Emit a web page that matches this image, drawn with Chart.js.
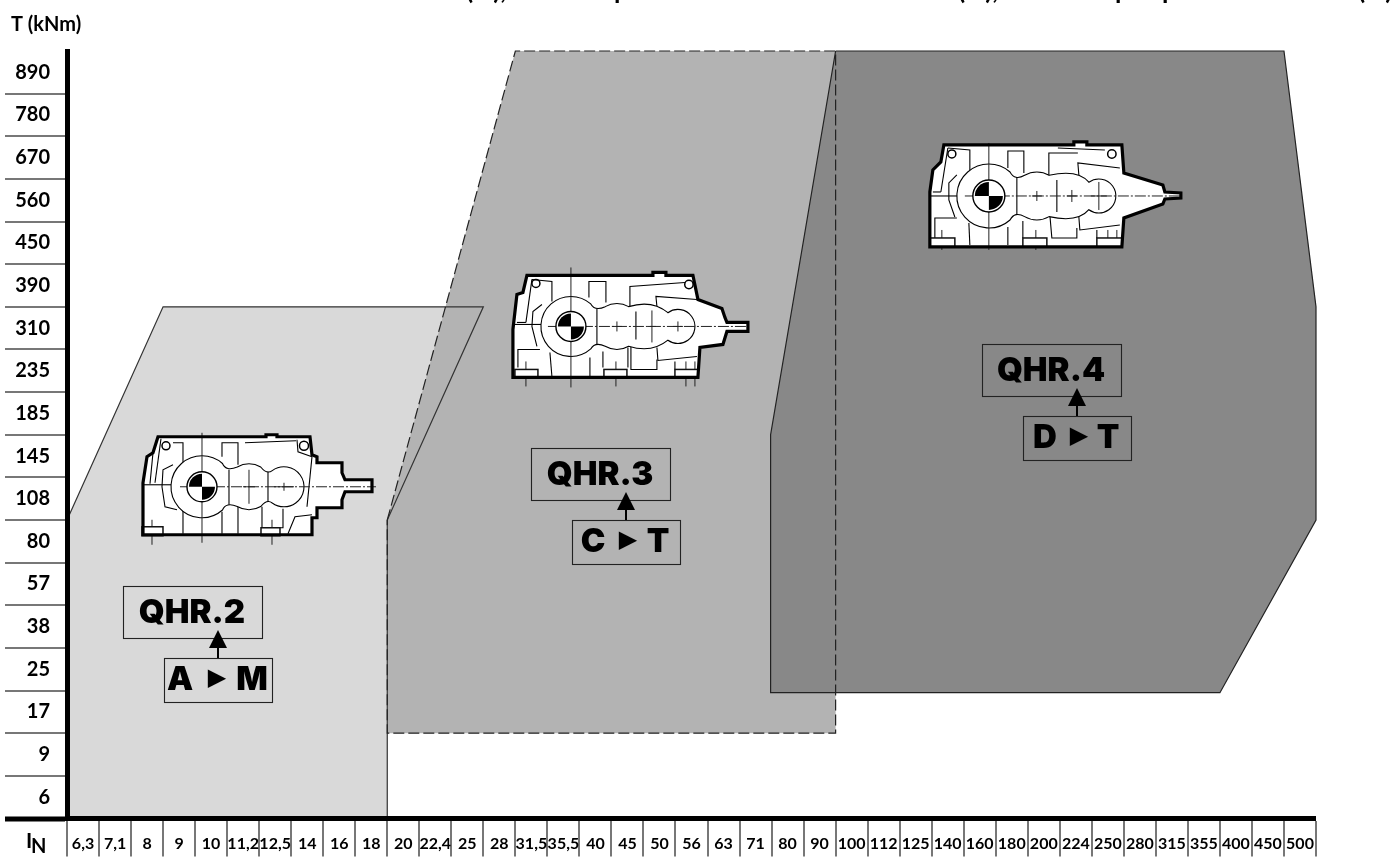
<!DOCTYPE html>
<html>
<head>
<meta charset="utf-8">
<style>html,body{margin:0;padding:0;background:#fff}canvas{display:block}</style>
<script src="https://cdn.jsdelivr.net/npm/chart.js@4/dist/chart.umd.min.js"></script>
</head>
<body>
<canvas id="c" width="1394" height="857"></canvas>
<script>
// Transmission ratio bands (horizontal axis)
const ratioLabels = ['6,3','7,1','8','9','10','11,2','12,5','14','16','18','20','22,4','25','28','31,5','35,5','40','45','50','56','63','71','80','90','100','112','125','140','160','180','200','224','250','280','315','355','400','450','500'];
// Torque bands (vertical axis), top to bottom
const torqueLabels = ['890','780','670','560','450','390','310','235','185','145','108','80','57','38','25','17','9','6'];

// Range outlines: vertices are counted in band edges along each axis
const qhr2X = [0, 3, 13, 10, 10, 0, 0];
const qhr2Y = [7, 12, 12, 7, 0, 0, 7];
const qhr3X = [10, 14, 24, 24, 10, 10];
const qhr3Y = [7, 18, 18, 2, 2, 7];
const qhr4X = [24, 38, 39, 39, 36, 21.97, 21.97, 24];
const qhr4Y = [18, 18, 12, 7, 2.95, 2.95, 9, 18];

const rangeNames = ['QHR.2', 'QHR.3', 'QHR.4'];
const sizeRanges = [['A', 'M'], ['C', 'T'], ['D', 'T']];

const pts = (xs, ys) => xs.map((x, i) => ({x, y: ys[i]}));
const fillSet = (xs, ys, colour) => ({data: pts(xs, ys), backgroundColor: colour, borderWidth: 0, fill: 'shape', pointRadius: 0, tension: 0, showLine: true, clip: false, xAxisID: 'x', yAxisID: 'y'});
const lineSet = (xs, ys, colour, dash) => ({data: pts(xs, ys), borderColor: colour, borderWidth: 1.2, borderDash: dash, borderJoinStyle: 'miter', fill: false, pointRadius: 0, tension: 0, showLine: true, clip: false, xAxisID: 'x', yAxisID: 'y'});

// ---- Gear unit line drawings, in local units around the big wheel centre
const gears = [
 { at: [4.215, 7.78], o: [202, 487],
   outline: [[158,437],[266,437],[266,435],[277,435],[277,437],[310,437],[312,455],[317,457],[317,463],[342,463],[342,473],[345,480],[372,480],[372,492],[345,492],[342,500],[342,508],[317,508],[317,518],[312,518],[312,535],[143,535],[143,483],[147,457],[153,453]],
   peanut: {R: 31, mx: 249, mr: 23, w1: 226, w1dy: 15, w2: 267, w2dy: 12, tx: 284, tr: 20},
   dividers: [[229,470,229,505],[268,472,268,502]],
   polylines: [
     [[161,439],[155,483]],[[153,453],[150,484]],
     [[143,485],[172,485]],
     [[173,465],[163,470],[162,487],[165,507],[177,510]],
     [[173,443],[183,443],[183,534]],
     [[222,457],[222,443],[238,443],[238,465]],
     [[222,512],[222,534]],[[238,507],[238,534]],
     [[262,507],[262,528]],[[272,528],[283,528],[283,509]],
     [[288,534],[295,517],[312,515]],
     [[245,443],[296,441]],[[297,440],[298,452],[312,457]],
     [[312,457],[307,507]]
   ],
   eyes: [[166,446,4],[304,446,4.5]],
   feet: [[142,527,21,9],[261,528,19,8]],
   vlines: [[202,433,543],[152,520,545],[272,520,545]],
   hline: [180,376],
   crosses: [[249,487,6,17],[284,487,10,4]],
   disc: 13 },
 { at: [15.735, 11.54], o: [571, 327],
   outline: [[527,276],[653,276],[653,273],[666,273],[666,276],[693,276],[698,300],[722,309],[725,318],[727,323],[748,323],[748,332],[727,332],[723,345],[700,348],[698,378],[513,378],[513,330],[517,295],[523,293]],
   peanut: {R: 30, mx: 617, mr: 23, w1: 595, w1dy: 15, w2: 652, w2dy: 27, tx: 678, tr: 17},
   arm: [[[657,307],[656,297],[697,300]],[[657,348],[658,361],[697,357]]],
   dividers: [[597,309,597,345],[636,312,636,340]],
   polylines: [
     [[532,280],[526,323]],[[517,323],[526,323]],
     [[532,280],[552,282],[552,302]],
     [[542,305],[533,312],[532,327],[537,347]],
     [[513,325],[542,325]],
     [[606,303],[606,282],[589,282],[589,298]],
     [[630,310],[630,287],[685,283]],
     [[518,368],[518,350],[540,350]],
     [[550,353],[552,377]],[[590,358],[590,377]],
     [[603,352],[603,368]],[[628,348],[628,368]],
     [[631,347],[631,370],[657,370],[657,360]],
     [[675,362],[675,370]]
   ],
   eyes: [[536,284,4],[689,285,4.2]],
   feet: [[515,370,23,8],[604,370,23,8],[675,370,23,8]],
   vlines: [[571,268,388],[526,362,387],[616,362,387],[686,362,387],[695,362,387]],
   hline: [548,748],
   crosses: [[617,327,5,5],[652,327,4,16],[678,327,5,5]],
   disc: 13 },
 { at: [28.785, 14.6], o: [989, 196],
   outline: [[944,145],[1074,145],[1074,142],[1087,142],[1087,145],[1122,145],[1124,173],[1163,185],[1165,192],[1181,193],[1181,198],[1165,199],[1163,204],[1124,218],[1122,247],[930,247],[930,192],[933,170],[941,162]],
   peanut: {R: 32, mx: 1037, mr: 24, w1: 1015, w1dy: 15, w2: 1078, w2dy: 27, tx: 1099, tr: 17},
   arm: [[[1079,175],[1078,163],[1120,168]],[[1079,217],[1080,230],[1120,225]]],
   dividers: [[1017,177,1017,215],[1057,180,1057,212]],
   polylines: [
     [[948,148],[941,192]],[[933,192],[941,192]],
     [[948,148],[970,150],[970,170]],
     [[957,175],[949,183],[949,200],[955,217]],
     [[930,196],[958,196]],
     [[1024,173],[1024,151],[1008,151],[1008,168]],
     [[1049,180],[1049,153],[1078,153]],[[1058,148],[1105,150]],
     [[935,238],[935,218],[957,218]],
     [[969,223],[970,245]],[[1008,227],[1008,245]],
     [[1023,221],[1023,238]],
     [[1050,215],[1052,238],[1077,238],[1077,228]],
     [[1097,230],[1097,238]]
   ],
   eyes: [[952,154,4],[1112,154,4.2]],
   feet: [[930,238,25,9],[1023,238,24,9],[1097,238,25,9]],
   vlines: [[989,143,250],[942,230,250],[1036,230,250],[1108,230,248],[1117,230,248]],
   hline: [965,1182],
   crosses: [[1037,196,5,5],[1072,196,5,6],[1099,196,8,14]],
   disc: 14 }
];

function drawGear(ctx, g, xs, ys) {
  ctx.save();
  ctx.translate(xs.getPixelForValue(g.at[0]) - g.o[0], ys.getPixelForValue(g.at[1]) - g.o[1]);
  ctx.lineCap = 'butt'; ctx.lineJoin = 'miter';
  const closed = p => { ctx.beginPath(); p.forEach((q, i) => i ? ctx.lineTo(q[0], q[1]) : ctx.moveTo(q[0], q[1])); ctx.closePath(); };
  const open = p => { ctx.beginPath(); p.forEach((q, i) => i ? ctx.lineTo(q[0], q[1]) : ctx.moveTo(q[0], q[1])); ctx.stroke(); };
  const seg = s => { ctx.beginPath(); ctx.moveTo(s[0], s[1]); ctx.lineTo(s[2], s[3]); ctx.stroke(); };
  closed(g.outline); ctx.fillStyle = '#fff'; ctx.fill();
  ctx.strokeStyle = '#000'; ctx.lineWidth = 1.1;
  g.polylines.forEach(open);
  ctx.lineWidth = 1.5;
  g.eyes.forEach(e => { ctx.beginPath(); ctx.arc(e[0], e[1], e[2], 0, 7); ctx.stroke(); });
  ctx.lineWidth = 1.1;
  if (g.arm) g.arm.forEach(open);
  // wheel housing: big wheel, middle lobe, end lobe
  const P = g.peanut, cx = g.o[0], cy = g.o[1], PI = Math.PI;
  const a = .27 * PI, m1 = 1.33 * PI, m2 = 1.67 * PI, t1 = 1.3 * PI, t2 = 2.7 * PI;
  const px = (x, r, an) => x + r * Math.cos(an), py = (r, an) => cy + r * Math.sin(an);
  ctx.beginPath();
  ctx.arc(cx, cy, P.R, a, 2 * PI - a);
  ctx.quadraticCurveTo(P.w1, cy - P.w1dy, px(P.mx, P.mr, m1), py(P.mr, m1));
  ctx.arc(P.mx, cy, P.mr, m1, m2);
  ctx.quadraticCurveTo(P.w2, cy - P.w2dy, px(P.tx, P.tr, t1), py(P.tr, t1));
  ctx.arc(P.tx, cy, P.tr, t1, t2);
  ctx.quadraticCurveTo(P.w2, cy + P.w2dy, px(P.mx, P.mr, 2.33 * PI), py(P.mr, 2.33 * PI));
  ctx.arc(P.mx, cy, P.mr, .33 * PI, .67 * PI);
  ctx.quadraticCurveTo(P.w1, cy + P.w1dy, px(cx, P.R, a), py(P.R, a));
  ctx.closePath();
  ctx.fillStyle = '#fff'; ctx.fill(); ctx.stroke();
  g.dividers.forEach(seg);
  ctx.lineWidth = 1; ctx.strokeStyle = '#222';
  g.vlines.forEach(v => seg([v[0], v[1], v[0], v[2]]));
  ctx.setLineDash([11, 2, 2, 2]);
  seg([g.hline[0], cy, g.hline[1], cy]);
  ctx.setLineDash([]);
  g.crosses.forEach(c => { seg([c[0] - c[2], c[1], c[0] + c[2], c[1]]); seg([c[0], c[1] - c[3], c[0], c[1] + c[3]]); });
  ctx.fillStyle = '#fff'; ctx.strokeStyle = '#111'; ctx.lineWidth = 1.5;
  g.feet.forEach(f => { ctx.fillRect(f[0], f[1], f[2], f[3]); ctx.strokeRect(f[0], f[1], f[2], f[3]); });
  ctx.lineWidth = 3.2; ctx.strokeStyle = '#000';
  closed(g.outline); ctx.stroke();
  const r = g.disc;
  ctx.beginPath(); ctx.arc(cx, cy, r + 2, 0, 7); ctx.fillStyle = '#fff'; ctx.fill();
  ctx.lineWidth = 1.4; ctx.stroke();
  ctx.beginPath(); ctx.arc(cx, cy, r, 0, 7); ctx.fill();
  ctx.fillStyle = '#000';
  [[PI, 1.5 * PI], [0, .5 * PI]].forEach(an => {
    ctx.beginPath(); ctx.moveTo(cx, cy); ctx.arc(cx, cy, r, an[0], an[1]); ctx.closePath(); ctx.fill();
  });
  ctx.restore();
}

// Range captions: box, arrow and size range, anchored on the arrow foot
const captionAnchors = [[4.714, 3.77], [17.45, 7.01], [31.54, 9.44]];
const nameBox = [-95, -72, 139, 52];
const subBox = [-54, 0, 108, 44];
const subLetterDx = [[-38, -1, 34], [-33, 2, 32], [-32, 2, 31]];

function drawCaption(ctx, i, xs, ys) {
  const ax = Math.round(xs.getPixelForValue(captionAnchors[i][0]));
  const ay = Math.round(ys.getPixelForValue(captionAnchors[i][1]));
  ctx.save();
  ctx.strokeStyle = '#222'; ctx.lineWidth = 1.1;
  ctx.strokeRect(ax + nameBox[0] + .5, ay + nameBox[1] + .5, nameBox[2], nameBox[3]);
  ctx.strokeRect(ax + subBox[0] + .5, ay + .5, subBox[2], subBox[3]);
  ctx.fillStyle = '#000';
  ctx.beginPath(); ctx.moveTo(ax, ay - 28); ctx.lineTo(ax + 9, ay - 10); ctx.lineTo(ax - 9, ay - 10); ctx.closePath(); ctx.fill();
  ctx.fillRect(ax - 1, ay - 11, 2, 11);
  ctx.textAlign = 'center'; ctx.textBaseline = 'middle';
  ctx.font = '900 33px Inter, Lato, sans-serif';
  ctx.fillText(rangeNames[i], ax - 26, ay - 45);
  ctx.font = '900 33px Inter, Lato, sans-serif';
  ctx.fillText(sizeRanges[i][0], ax + subLetterDx[i][0], ay + 22);
  ctx.fillText(sizeRanges[i][1], ax + subLetterDx[i][2], ay + 22);
  ctx.font = '24px "DejaVu Sans"';
  ctx.fillText('\u25B6', ax + subLetterDx[i][1], ay + 21);
  ctx.restore();
}

const overlay = {
  id: 'overlay',
  afterDatasetsDraw(chart) {
    const ctx = chart.ctx, xs = chart.scales.x, ys = chart.scales.y;
    gears.forEach(g => drawGear(ctx, g, xs, ys));
    rangeNames.forEach((n, i) => drawCaption(ctx, i, xs, ys));
    ctx.save();
    ctx.fillStyle = '#000';
    ctx.textBaseline = 'alphabetic'; ctx.textAlign = 'left';
    ctx.font = 'bold 20px Lato, sans-serif';
    ctx.fillText('T (kNm)', 11, 31);
    ctx.font = 'bold 21px Lato, sans-serif';
    ctx.fillText('I', 26, 848);
    ctx.font = 'bold 20px Lato, sans-serif';
    ctx.fillText('N', 31, 853);
    // the title above the page edge: only its lowest strokes show
    ctx.font = 'bold 26px Lato, sans-serif';
    [['(N),', 466], ['p', 614], ['(N),', 958], ['p', 1115], ['p', 1162], ['(N)', 1358]].forEach(t => ctx.fillText(t[0], t[1], -1));
    ctx.restore();
  }
};

new Chart(document.getElementById('c'), {
  type: 'scatter',
  data: {
    datasets: [
      fillSet(qhr4X, qhr4Y, '#888888'),
      fillSet(qhr3X, qhr3Y, '#b3b3b3'),
      fillSet(qhr2X, qhr2Y, '#d9d9d9'),
      lineSet(qhr4X, qhr4Y, '#222222', []),
      lineSet(qhr3X, qhr3Y, '#222222', [11, 4]),
      lineSet(qhr2X, qhr2Y, '#333333', [])
    ].map((d, i) => Object.assign(d, {order: i < 3 ? 10 + i : i - 3}))
  },
  options: {
    responsive: false,
    animation: false,
    layout: {padding: {top: 51, right: 78, left: 0, bottom: 0}},
    plugins: {legend: {display: false}, tooltip: {enabled: false}, title: {display: false}},
    scales: {
      x: {type: 'linear', min: 0, max: ratioLabels.length, display: false},
      y: {type: 'linear', min: 0, max: torqueLabels.length, display: false},
      xBands: {
        type: 'category', position: 'bottom', axis: 'x', labels: ratioLabels, offset: true,
        afterFit: s => { s.height = 38.5; },
        grid: {offset: true, drawOnChartArea: false, drawTicks: true, tickLength: 38, tickWidth: 1.5, tickColor: '#4a4a4a', lineWidth: 0},
        border: {display: true, width: 5, color: '#000', z: 1},
        ticks: {autoSkip: false, maxRotation: 0, minRotation: 0, padding: -22, color: '#000', font: {family: 'Lato', size: 16, weight: 'bold'}}
      },
      yBands: {
        type: 'category', position: 'left', axis: 'y', labels: torqueLabels, offset: true,
        afterFit: s => { s.width = 67; },
        grid: {offset: true, drawOnChartArea: false, drawTicks: true, tickLength: 62, lineWidth: 0,
          tickWidth: c => c.index === undefined ? 5 : (c.index === 0 ? 0 : 1.5),
          tickColor: c => c.index === undefined ? '#000' : '#4a4a4a'},
        border: {display: true, width: 5, color: '#000', z: 1},
        ticks: {autoSkip: false, padding: -45, color: '#000', font: {family: 'Lato', size: 20, weight: 'bold'}}
      }
    }
  },
  plugins: [overlay]
});
</script>
</body>
</html>
